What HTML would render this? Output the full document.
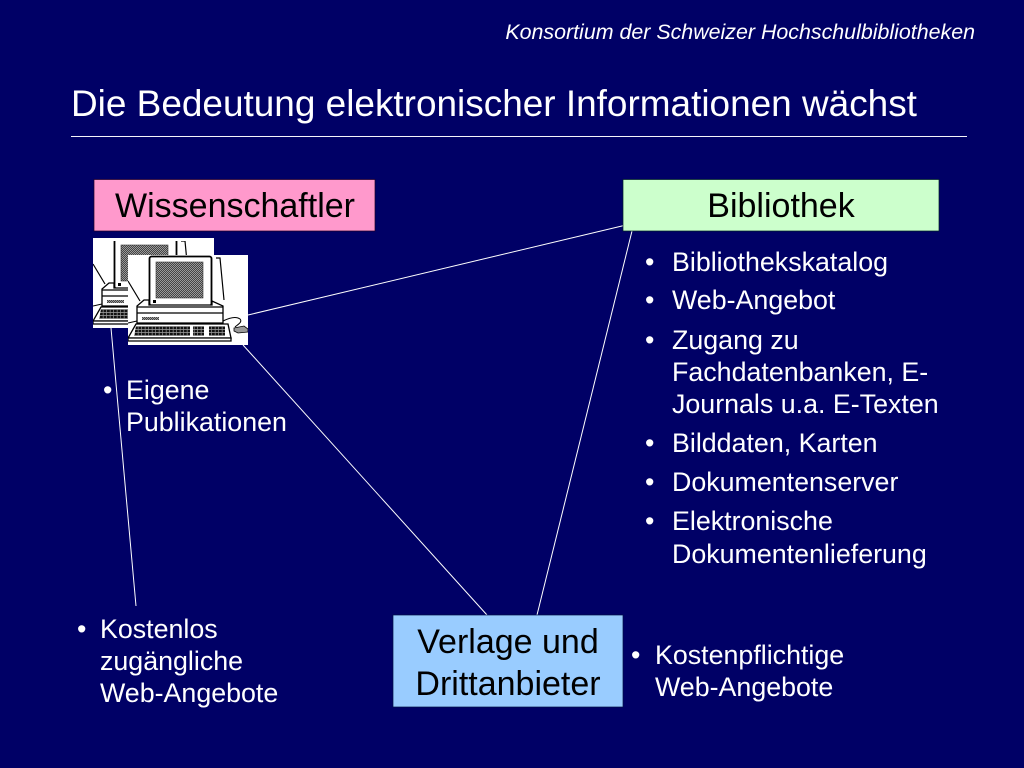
<!DOCTYPE html>
<html lang="de">
<head>
<meta charset="utf-8">
<title>Die Bedeutung elektronischer Informationen wächst</title>
<style>
html,body{margin:0;padding:0;background:#000066;width:1024px;height:768px;overflow:hidden}
svg{display:block}
text{font-family:"Liberation Sans",Arial,sans-serif}
.w{fill:#fff;font-size:26.8px}
.b{fill:#000;font-size:34px;text-anchor:middle}
</style>
</head>
<body>
<svg width="1024" height="768" viewBox="0 0 1024 768" xmlns="http://www.w3.org/2000/svg">
<defs>
<pattern id="ht" width="2" height="2" patternUnits="userSpaceOnUse">
<rect width="2" height="2" fill="#9a9a9a"/>
<rect width="1" height="1" fill="#444"/>
<rect x="1" y="1" width="1" height="1" fill="#444"/>
</pattern>
<pattern id="keys" width="3.500" height="3" patternUnits="userSpaceOnUse">
<rect width="3.500" height="3" fill="#999"/>
<rect width="2.800" height="2.200" fill="#111"/>
</pattern>
<clipPath id="cb"><rect x="93" y="241" width="121" height="87"/></clipPath>
<clipPath id="cf"><rect x="128" y="255" width="120" height="90"/></clipPath>
<g id="pc">
<rect x="-5" y="-10" width="135" height="110" fill="#fff"/>
<path d="M88 3 L92 3 L96 45 M0 26 L12 46" fill="none" stroke="#000" stroke-width="1.200"/>
<rect x="21.500" y="1.500" width="62" height="49" rx="2" fill="#fff" stroke="#000" stroke-width="1.800"/>
<rect x="28" y="7" width="47" height="36" fill="url(#ht)" stroke="#333" stroke-width="0.600"/>
<rect x="25" y="45" width="3" height="3" fill="#000"/>
<path d="M9 60 L9 51 L16 45 L21 45 L21 50 L84 50 L84 46 L95 51 L95 68 L9 68 Z" fill="#fff" stroke="#000" stroke-width="1.300"/>
<path d="M9 52 H95 M9 58 H95" stroke="#000" stroke-width="1.300"/>
<rect x="14" y="62" width="17" height="3" fill="url(#ht)"/>
<path d="M0 68 L9 66 M95 66 C101 63 108 61 112 64 C115 67 109 70 107 72" fill="none" stroke="#000" stroke-width="1"/>
<path d="M8 69 H100 L103 83 H0 Z" fill="#fff" stroke="#000" stroke-width="1.300"/>
<path d="M0 83 H103 V86 H0 Z" fill="#fff" stroke="#000" stroke-width="1.300"/>
<path d="M8 71 H62 V81 H6 Z" fill="url(#keys)"/>
<rect x="65" y="71" width="11" height="10" fill="url(#keys)"/>
<rect x="81" y="71" width="16" height="10" fill="url(#keys)"/>
<path d="M106 73 L116 71 L120 74 L120 77 L110 78 L106 76 Z" fill="#999" stroke="#000" stroke-width="0.800"/>
</g>
</defs>

<rect width="1024" height="768" fill="#000066"/>

<text x="975" y="39" text-anchor="end" fill="#fff" font-size="21.4" font-style="italic">Konsortium der Schweizer Hochschulbibliotheken</text>
<text x="71" y="116" fill="#fff" font-size="36.95">Die Bedeutung elektronischer Informationen wächst</text>
<rect x="71" y="136" width="896" height="1" fill="#f4f4fa"/>

<g stroke="#fff" stroke-width="1" fill="none">
<line x1="248" y1="315" x2="624" y2="225.500"/>
<line x1="632" y1="231" x2="537" y2="615"/>
<line x1="243" y1="345" x2="487" y2="615"/>
<line x1="111" y1="328" x2="136" y2="606"/>
</g>

<rect x="94" y="179.500" width="281" height="51.500" fill="#ff99cc" stroke="#220022" stroke-width="0.700"/>
<text class="b" x="235" y="217">Wissenschaftler</text>
<rect x="623" y="179.500" width="316" height="51.500" fill="#ccffcc" stroke="#002222" stroke-width="0.700"/>
<text class="b" x="781" y="217">Bibliothek</text>
<rect x="393" y="615" width="230" height="92" fill="#99ccff" stroke="#001144" stroke-width="0.700"/>
<text class="b" x="508" y="653">Verlage und</text>
<text class="b" x="508" y="695">Drittanbieter</text>

<rect x="93" y="238" width="121" height="90" fill="#fff"/>
<g clip-path="url(#cb)"><use href="#pc" transform="translate(93 238)"/></g>
<g clip-path="url(#cf)"><use href="#pc" transform="translate(128 255)"/></g>

<g class="list" transform="translate(0 1)">
<text class="w" x="645" y="270">•</text><text class="w" x="672" y="270">Bibliothekskatalog</text>
<text class="w" x="645" y="308">•</text><text class="w" x="672" y="308">Web-Angebot</text>
<text class="w" x="645" y="348">•</text><text class="w" x="672" y="348">Zugang zu</text>
<text class="w" x="672" y="380">Fachdatenbanken, E-</text>
<text class="w" x="672" y="412">Journals u.a. E-Texten</text>
<text class="w" x="645" y="451">•</text><text class="w" x="672" y="451">Bilddaten, Karten</text>
<text class="w" x="645" y="490">•</text><text class="w" x="672" y="490">Dokumentenserver</text>
<text class="w" x="645" y="529">•</text><text class="w" x="672" y="529">Elektronische</text>
<text class="w" x="672" y="562">Dokumentenlieferung</text>

<text class="w" x="103" y="398">•</text><text class="w" x="126" y="398">Eigene</text>
<text class="w" x="126" y="430">Publikationen</text>

<text class="w" x="77" y="637">•</text><text class="w" x="100" y="637">Kostenlos</text>
<text class="w" x="100" y="669">zugängliche</text>
<text class="w" x="100" y="701">Web-Angebote</text>

<text class="w" x="631" y="663">•</text><text class="w" x="655" y="663">Kostenpflichtige</text>
<text class="w" x="655" y="695">Web-Angebote</text>
</g>
</svg>
</body>
</html>
